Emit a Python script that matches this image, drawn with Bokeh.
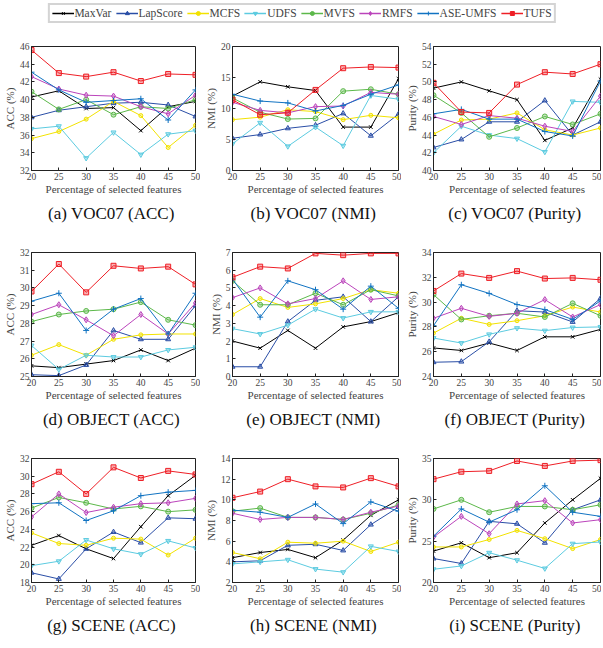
from bokeh.plotting import figure
from bokeh.models import Range1d, FixedTicker, Title, Legend, LegendItem
from bokeh.layouts import column, row
from bokeh.embed import file_html
from bokeh.resources import INLINE

FONT = "Liberation Serif"

x_pct = [20, 25, 30, 35, 40, 45, 50]
methods = ["MaxVar", "LapScore", "MCFS", "UDFS", "MVFS", "RMFS", "ASE-UMFS", "TUFS"]

voc07_acc = {
    "MaxVar":   [40.3, 41.0, 39.0, 39.1, 36.5, 39.2, 39.8],
    "LapScore": [38.0, 38.8, 39.2, 39.6, 39.7, 39.4, 38.1],
    "MCFS":     [35.6, 36.4, 37.8, 39.8, 38.2, 34.6, 37.1],
    "UDFS":     [36.7, 37.0, 33.4, 36.3, 33.8, 36.1, 36.5],
    "MVFS":     [40.9, 38.9, 40.0, 38.3, 39.2, 39.0, 40.0],
    "RMFS":     [42.6, 41.2, 40.5, 40.4, 39.2, 38.4, 40.5],
    "ASE-UMFS": [43.1, 41.1, 39.7, 39.9, 40.1, 37.7, 41.1],
    "TUFS":     [45.6, 43.0, 42.6, 43.1, 42.1, 42.9, 42.8],
}
voc07_nmi = {
    "MaxVar":   [12.0, 14.3, 13.5, 12.9, 7.0, 7.0, 14.8],
    "LapScore": [5.2, 5.8, 6.8, 7.3, 9.2, 5.6, 9.1],
    "MCFS":     [8.2, 8.6, 9.8, 9.5, 8.2, 8.9, 8.5],
    "UDFS":     [4.3, 7.7, 3.9, 7.0, 4.0, 12.1, 11.5],
    "MVFS":     [11.7, 9.4, 8.3, 8.4, 12.8, 13.1, 12.3],
    "RMFS":     [11.0, 9.7, 9.3, 10.3, 10.4, 12.6, 12.3],
    "ASE-UMFS": [12.3, 11.2, 10.9, 9.6, 10.5, 12.3, 13.8],
    "TUFS":     [11.4, 9.0, 9.3, 13.0, 16.5, 16.7, 16.6],
}
voc07_purity = {
    "MaxVar":   [49.3, 50.0, 49.0, 48.0, 43.4, 44.8, 50.3],
    "LapScore": [42.6, 43.5, 45.5, 45.5, 47.9, 44.0, 45.5],
    "MCFS":     [44.1, 45.7, 45.8, 46.5, 44.6, 44.0, 44.8],
    "UDFS":     [42.0, 45.0, 44.0, 43.6, 42.1, 47.8, 47.7],
    "MVFS":     [48.5, 46.5, 43.8, 44.8, 46.1, 45.2, 46.4],
    "RMFS":     [46.1, 45.2, 46.2, 45.9, 45.0, 44.4, 48.4],
    "ASE-UMFS": [46.4, 46.9, 45.8, 45.8, 44.4, 43.9, 50.1],
    "TUFS":     [49.9, 46.6, 46.5, 49.7, 51.1, 50.9, 52.0],
}
object_acc = {
    "MaxVar":   [25.6, 25.5, 25.7, 25.9, 26.5, 25.9, 26.6],
    "LapScore": [25.1, 25.05, 25.65, 27.6, 27.1, 27.1, 29.0],
    "MCFS":     [26.2, 26.8, 26.2, 27.1, 27.35, 27.4, 27.4],
    "UDFS":     [26.75, 25.4, 26.2, 26.1, 26.1, 26.5, 26.65],
    "MVFS":     [28.1, 28.5, 28.7, 28.8, 29.2, 28.2, 27.9],
    "RMFS":     [28.5, 29.05, 28.2, 27.3, 28.5, 27.4, 29.15],
    "ASE-UMFS": [29.25, 29.7, 27.6, 28.8, 29.4, 27.4, 29.7],
    "TUFS":     [29.8, 31.35, 29.75, 31.25, 31.1, 31.2, 30.2],
}
object_nmi = {
    "MaxVar":   [2.0, 1.6, 2.6, 1.6, 2.8, 3.1, 3.6],
    "LapScore": [0.55, 0.55, 3.1, 4.3, 4.5, 3.1, 4.5],
    "MCFS":     [3.5, 4.4, 3.9, 4.1, 4.4, 4.9, 4.7],
    "UDFS":     [2.7, 2.4, 2.9, 3.8, 3.3, 3.65, 3.65],
    "MVFS":     [5.4, 4.05, 4.05, 4.7, 4.05, 4.9, 4.55],
    "RMFS":     [4.45, 5.0, 4.1, 4.4, 5.4, 4.35, 4.5],
    "ASE-UMFS": [5.5, 3.35, 5.4, 4.9, 3.8, 5.1, 3.85],
    "TUFS":     [5.6, 6.2, 6.1, 6.95, 6.85, 6.95, 6.95],
}
object_purity = {
    "MaxVar":   [26.3, 26.1, 26.7, 26.1, 27.2, 27.2, 27.8],
    "LapScore": [25.15, 25.2, 26.8, 29.3, 29.2, 28.4, 30.3],
    "MCFS":     [27.5, 28.7, 28.2, 28.5, 28.9, 29.6, 29.2],
    "UDFS":     [27.1, 26.7, 27.4, 27.9, 27.7, 27.95, 28.0],
    "MVFS":     [30.6, 28.6, 28.9, 29.1, 28.8, 29.9, 28.9],
    "RMFS":     [28.7, 29.5, 28.85, 29.1, 30.2, 28.8, 29.8],
    "ASE-UMFS": [28.1, 31.4, 30.7, 29.8, 29.4, 28.6, 30.1],
    "TUFS":     [30.9, 32.3, 31.95, 32.5, 31.9, 31.95, 31.8],
}
scene_acc = {
    "MaxVar":   [22.2, 23.3, 21.8, 20.7, 24.3, 27.8, 30.1],
    "LapScore": [19.1, 18.4, 21.8, 23.7, 22.5, 25.3, 25.2],
    "MCFS":     [23.6, 22.4, 22.2, 23.0, 22.9, 21.1, 23.0],
    "UDFS":     [19.9, 20.4, 22.8, 21.8, 21.2, 22.7, 21.9],
    "MVFS":     [26.4, 27.6, 27.0, 26.3, 26.6, 26.0, 26.2],
    "RMFS":     [25.4, 28.0, 25.9, 26.5, 26.9, 27.0, 27.5],
    "ASE-UMFS": [26.9, 27.0, 25.0, 26.1, 27.8, 28.2, 28.4],
    "TUFS":     [29.1, 30.5, 28.0, 31.0, 29.8, 30.6, 30.2],
}
scene_nmi = {
    "MaxVar":   [4.4, 4.9, 5.2, 4.4, 6.1, 8.5, 10.0],
    "LapScore": [4.0, 4.1, 5.6, 5.7, 5.1, 7.6, 9.3],
    "MCFS":     [4.9, 4.3, 5.9, 5.8, 6.0, 5.0, 5.9],
    "UDFS":     [3.8, 4.0, 4.2, 3.3, 3.0, 5.5, 5.0],
    "MVFS":     [8.9, 9.2, 8.3, 8.3, 8.1, 8.7, 9.5],
    "RMFS":     [8.7, 8.1, 8.3, 8.3, 8.1, 8.8, 9.4],
    "ASE-UMFS": [9.0, 8.8, 8.3, 9.6, 7.7, 9.8, 8.9],
    "TUFS":     [10.2, 10.8, 12.0, 11.3, 11.2, 12.1, 11.3],
}
scene_purity = {
    "MaxVar":   [23.8, 24.8, 23.0, 23.6, 27.2, 30.0, 32.6],
    "LapScore": [22.9, 22.3, 27.4, 27.1, 24.8, 28.8, 30.0],
    "MCFS":     [24.3, 24.3, 25.2, 26.3, 25.3, 24.1, 25.2],
    "UDFS":     [21.6, 22.0, 23.6, 22.7, 21.7, 24.7, 24.9],
    "MVFS":     [28.9, 30.0, 28.5, 29.2, 29.2, 28.8, 29.4],
    "RMFS":     [25.5, 28.0, 25.9, 29.5, 29.9, 27.2, 27.6],
    "ASE-UMFS": [25.6, 28.9, 27.3, 28.8, 31.7, 28.5, 28.0],
    "TUFS":     [32.5, 33.4, 33.5, 34.7, 34.1, 34.7, 34.8],
}

colors = {
    "MaxVar": "#000000", "LapScore": "#2a4ea6", "MCFS": "#f2e200",
    "UDFS": "#5ccbe0", "MVFS": "#5cb84a", "RMFS": "#bb44bb",
    "ASE-UMFS": "#1173c2", "TUFS": "#ee1f26",
}
markers = {
    "MaxVar": "x", "LapScore": "triangle", "MCFS": "circle",
    "UDFS": "inverted_triangle", "MVFS": "circle", "RMFS": "diamond",
    "ASE-UMFS": "cross", "TUFS": "square",
}
msize = {
    "MaxVar": 5, "LapScore": 5, "MCFS": 4, "UDFS": 5, "MVFS": 5,
    "RMFS": 6, "ASE-UMFS": 6, "TUFS": 5,
}

panels = [
    (voc07_acc, "ACC (%)", 32, 46, 2, "(a)  VOC07 (ACC)"),
    (voc07_nmi, "NMI (%)", 0, 20, 5, "(b)  VOC07 (NMI)"),
    (voc07_purity, "Purity (%)", 40, 54, 2, "(c)  VOC07 (Purity)"),
    (object_acc, "ACC (%)", 25, 32, 1, "(d)  OBJECT (ACC)"),
    (object_nmi, "NMI (%)", 0, 7, 1, "(e)  OBJECT (NMI)"),
    (object_purity, "Purity (%)", 24, 34, 2, "(f)  OBJECT (Purity)"),
    (scene_acc, "ACC (%)", 18, 32, 2, "(g)  SCENE (ACC)"),
    (scene_nmi, "NMI (%)", 2, 14, 2, "(h)  SCENE (NMI)"),
    (scene_purity, "Purity (%)", 20, 35, 5, "(i)  SCENE (Purity)"),
]

col_widths = [200, 201, 200]
col_left = [29, 32, 32]
col_right = [5, 3, 1]


def make_panel(data, ylab, ylo, yhi, ystep, caption, ci):
    p = figure(width=col_widths[ci], height=206,
               x_range=Range1d(20, 50), y_range=Range1d(ylo, yhi),
               output_backend="svg", toolbar_location=None,
               min_border_left=col_left[ci], min_border_right=col_right[ci],
               min_border_top=20, min_border_bottom=62)
    p.xgrid.visible = False
    p.ygrid.visible = False
    p.outline_line_color = "#222222"
    p.outline_line_width = 1
    ticks = []
    t = ylo
    while t <= yhi + 1e-9:
        ticks.append(t)
        t += ystep
    p.xaxis.ticker = FixedTicker(ticks=x_pct)
    p.yaxis.ticker = FixedTicker(ticks=ticks)
    p.xaxis.axis_label = "Percentage of selected features"
    p.yaxis.axis_label = ylab
    for ax in (p.xaxis, p.yaxis):
        ax.axis_label_text_font = FONT
        ax.axis_label_text_font_size = "11px"
        ax.axis_label_text_font_style = "normal"
        ax.axis_label_standoff = 1
        ax.major_label_text_font = FONT
        ax.major_label_text_font_size = "9.5px"
        ax.major_label_standoff = 2
        ax.major_tick_in = 3
        ax.major_tick_out = 0
        ax.minor_tick_line_color = None
        ax.axis_line_color = "#222222"
        ax.major_tick_line_color = "#222222"
    p.xaxis.axis_label_standoff = 0
    for m in methods:
        c = colors[m]
        p.line(x_pct, data[m], line_color=c, line_width=1.0)
        p.scatter(x_pct, data[m], marker=markers[m], size=msize[m],
                  line_color=c, fill_color=c, fill_alpha=0.35, line_width=1)
    p.add_layout(Title(text=caption, align="center", text_font=FONT,
                       text_font_size="17px", text_font_style="normal",
                       text_color="#111111", standoff=8), "below")
    return p


figs = [make_panel(*pn, i % 3) for i, pn in enumerate(panels)]

# legend strip (hidden dummy marks lie outside the visible range)
lf = figure(width=603, height=26, output_backend="svg", toolbar_location=None,
            x_range=Range1d(0, 1), y_range=Range1d(0, 1),
            x_axis_location=None, y_axis_location=None, min_border=0)
lf.xgrid.visible = False
lf.ygrid.visible = False
lf.outline_line_color = None
items = []
for m in methods:
    c = colors[m]
    r1 = lf.line(x=[-5, -4], y=[-5, -4], line_color=c, line_width=1.5)
    r2 = lf.scatter(x=[-5], y=[-5], marker=markers[m], size=msize[m],
                    line_color=c, fill_color=c)
    items.append(LegendItem(label=m, renderers=[r1, r2]))
leg = Legend(items=items, orientation="horizontal", location="center",
             label_text_font=FONT, label_text_font_size="11.5px",
             glyph_width=22, glyph_height=10, label_standoff=1,
             spacing=4, padding=2, margin=0,
             border_line_color="#aaaaaa", border_line_width=2,
             background_fill_color="white")
lf.add_layout(leg)

layout = column(lf,
                row(figs[0], figs[1], figs[2]),
                row(figs[3], figs[4], figs[5]),
                row(figs[6], figs[7], figs[8]))

with open("out.html", "w") as f:
    f.write(file_html(layout, INLINE))
